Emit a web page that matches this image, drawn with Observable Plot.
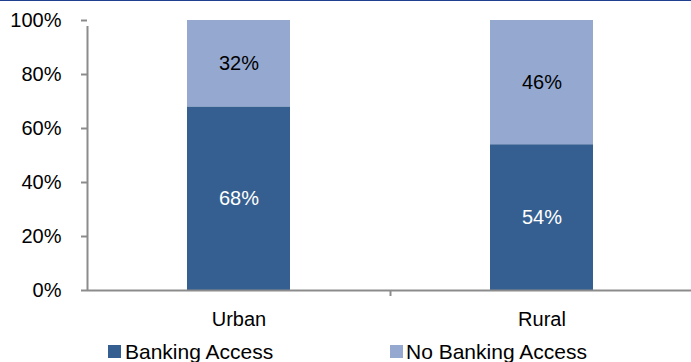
<!DOCTYPE html>
<html><head><meta charset="utf-8">
<script src="https://cdn.jsdelivr.net/npm/d3@7"></script>
<script src="https://cdn.jsdelivr.net/npm/@observablehq/plot@0.6"></script>
<style>
body{margin:0;background:#fff;font-family:"Liberation Sans",Arial,sans-serif;}
#wrap{position:relative;width:691px;height:362px;overflow:hidden;background:#fff;}
#topline{position:absolute;left:0;top:0;width:691px;height:1px;background:#1f3f8f;}
#chart{position:absolute;left:0;top:0;}
.leg{position:absolute;top:341px;font-size:21px;line-height:21px;color:#000;white-space:nowrap;}
.sw{display:inline-block;position:absolute;width:13px;height:13px;}
</style></head>
<body><div id="wrap"><div id="chart"></div><div id="topline"></div><div id="legend"></div></div>
<script>
const categories = ["Urban", "Rural"];
const series = ["Banking Access", "No Banking Access"];
const banking = [68, 54];
const noBanking = [32, 46];
const yTicks = [0, 20, 40, 60, 80, 100];
const colors = ["#365F91", "#95A9D0"];
const labelColors = ["#ffffff", "#000000"];

const rows = [];
categories.forEach((c, i) => {
  rows.push({cat: c, series: series[0], value: banking[i]});
  rows.push({cat: c, series: series[1], value: noBanking[i]});
});
const sIdx = d => series.indexOf(d.series);

const xRange = [87, 693];
const step = (xRange[1] - xRange[0]) / categories.length;
const axisGray = "#8c8c8c";

const plot = Plot.plot({
  width: 691, height: 335,
  marginTop: 20, marginLeft: 87, marginRight: 0, marginBottom: 45,
  style: {fontFamily: "'Liberation Sans', Arial, sans-serif", fontSize: "20px", color: "#000", background: "transparent"},
  x: {domain: categories, range: xRange, paddingInner: 0.66, paddingOuter: 0.33, label: null},
  y: {domain: [0, 100], label: null},
  marks: [
    Plot.barY(rows, {x: "cat", y: "value", fill: d => colors[sIdx(d)]}),
    Plot.text(rows, Plot.stackY({x: "cat", y: "value", text: d => d.value + "%", fill: d => labelColors[sIdx(d)], fontSize: 20})),
    Plot.axisY({ticks: yTicks, tickSize: 6, tickPadding: 20, tickFormat: d => d + "%", stroke: axisGray, strokeWidth: 2, fill: "#000", label: null, fontSize: 20}),
    Plot.ruleY([0], {stroke: axisGray, strokeWidth: 2}),
    Plot.ruleX([categories[0]], {dx: -step / 2, y1: 0, y2: 100, insetBottom: -6, stroke: axisGray, strokeWidth: 2}),
    Plot.ruleX(categories.slice(1), {dx: -step / 2, y1: 0, y2: 0, insetBottom: -6, stroke: axisGray, strokeWidth: 2}),
    Plot.axisX({tickSize: 0, tickPadding: 21, label: null, fill: "#000", fontSize: 20})
  ]
});
document.getElementById("chart").appendChild(plot);

const legendX = [[108, 125], [390, 406]];
const legend = document.getElementById("legend");
series.forEach((s, i) => {
  const sw = document.createElement("span");
  sw.className = "sw";
  sw.style.left = legendX[i][0] + "px";
  sw.style.top = "345px";
  sw.style.background = colors[i];
  legend.appendChild(sw);
  const t = document.createElement("span");
  t.className = "leg";
  t.style.left = legendX[i][1] + "px";
  t.textContent = s;
  legend.appendChild(t);
});
</script>
</body></html>
